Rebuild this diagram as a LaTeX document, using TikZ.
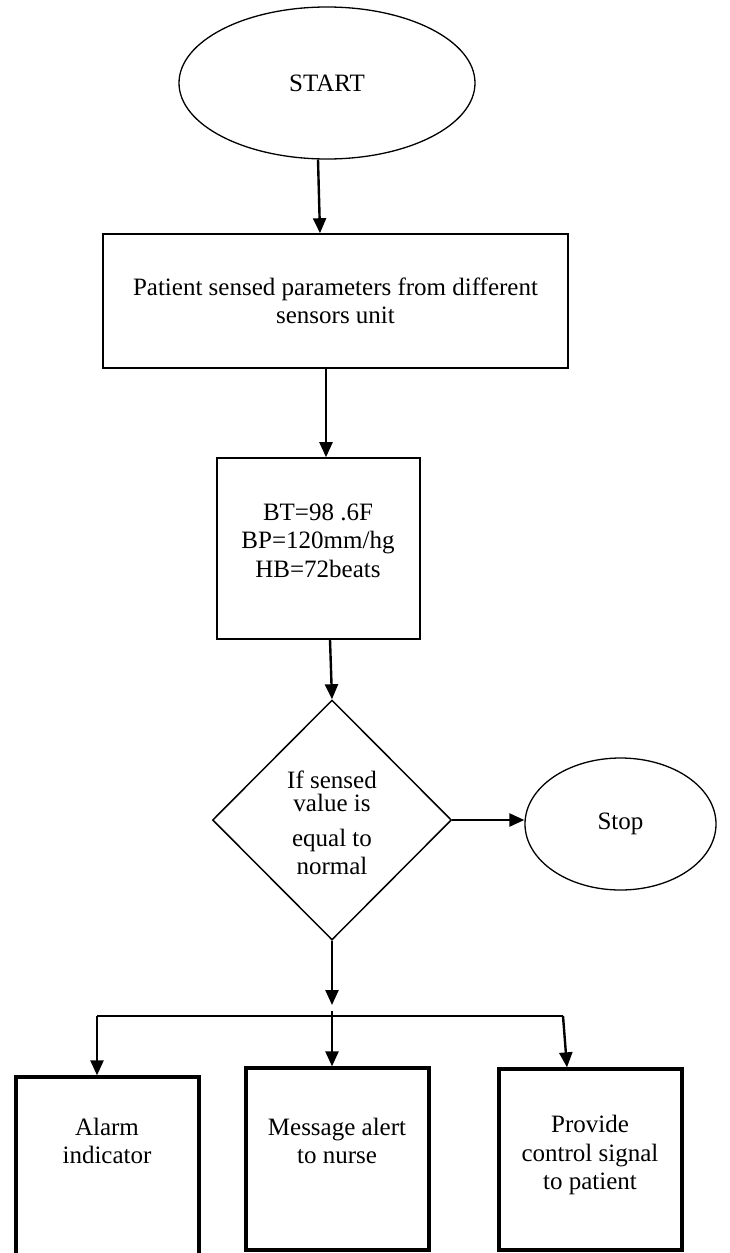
\documentclass[tikz,border=0pt]{standalone}
\usepackage{fontspec}
\setmainfont{Liberation Serif}
\usetikzlibrary{shapes.geometric,arrows.meta}
\begin{document}
\begin{tikzpicture}[x=1pt,y=-1pt,
  txt/.style={font=\fontsize{25}{28.5}\selectfont, align=center, inner sep=0pt},
  oval/.style={ellipse, draw, line width=1.3pt, inner sep=0pt, font=\fontsize{25}{28.5}\selectfont},
  thinbox/.style={rectangle, draw, line width=1.6pt, inner sep=0pt},
  thickbox/.style={rectangle, draw, line width=3.3pt, inner sep=0pt, minimum width=183pt},
  decision/.style={diamond, draw, line width=1.5pt, inner sep=0pt, minimum width=239pt, minimum height=240pt},
  arr/.style={line width=2.4pt, -{Triangle[width=13pt,length=15pt]}},
  link/.style={line width=1.8pt}]
\useasboundingbox (0,0) rectangle (729,1253);
\fill[white] (0,0) rectangle (729,1253);
\clip (0,0) rectangle (729,1253);

% shapes
\node[oval, minimum width=296pt, minimum height=152pt] (start) at (327,83) {START};
\node[thinbox, minimum width=465pt, minimum height=134pt, txt, draw, line width=1.6pt] (box1) at (335.5,301)
  {Patient sensed parameters from different\\sensors unit};
\node[thinbox, minimum width=203pt, minimum height=181pt] (box2) at (318.5,548.5) {};
\node[txt] (t-box2) at (318,540.5) {BT=98 .6F\\BP=120mm/hg\\HB=72beats};
\node[decision] (dec) at (332,820) {};
\node[txt] (t-dec) at (332,823) {If sensed\\[-5.5pt]value is\\[6.5pt]equal to\\[-0.5pt]normal};
\node[oval, minimum width=191pt, minimum height=132pt] (stop) at (620.5,824) {Stop};

\node[thickbox, minimum height=185pt] (lbox) at (107.5,1169.5) {};
\node[thickbox, minimum height=182pt] (mbox) at (337.5,1159) {};
\node[thickbox, minimum height=181pt] (rbox) at (590.5,1159.5) {};
\node[txt] (t-l) at (107,1141) {Alarm\\indicator};
\node[txt] (t-m) at (337,1141) {Message alert\\to nurse};
\node[txt] (t-r) at (590,1155) {Provide\\control signal\\to patient};

% junction points
\coordinate (jn) at (332,1005);
\coordinate (bl) at (97,1016);
\coordinate (br) at (563,1016);
\coordinate (bm) at (332,1011);

% connectors
\draw[arr] ([xshift=-9pt]start.south) -- ([xshift=-15.5pt]box1.north);
\draw[arr] ([xshift=-9.5pt]box1.south) -- ([xshift=7.5pt]box2.north);
\draw[arr] ([xshift=11.5pt]box2.south) -- (dec.north);
\draw[arr] (dec.east) -- (dec.east -| stop.west);
\draw[arr] (dec.south) -- (jn);
\draw[link] (bl) -- (br);
\draw[arr] (bl) -- (bl |- lbox.north);
\draw[arr] (bm) -- (bm |- mbox.north);
\draw[arr] (br) -- ([xshift=-23.5pt]rbox.north);
\end{tikzpicture}
\end{document}
